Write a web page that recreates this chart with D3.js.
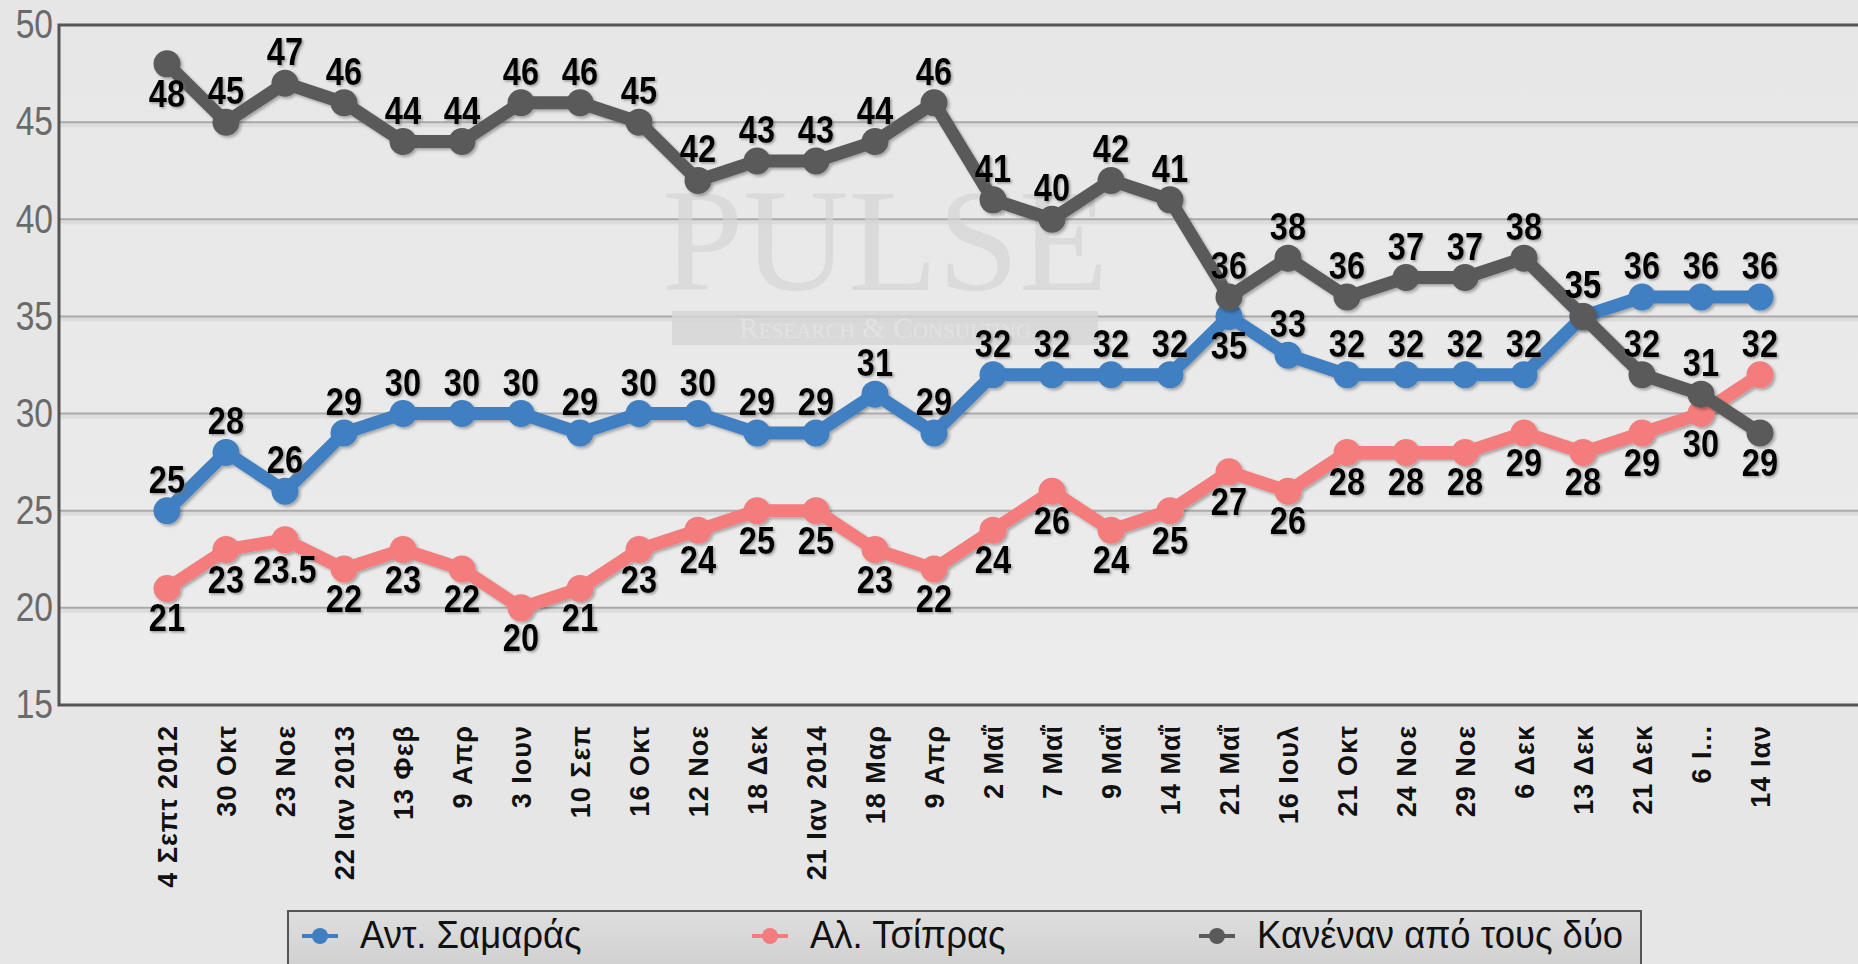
<!DOCTYPE html>
<html>
<head>
<meta charset="utf-8">
<script src="https://cdn.jsdelivr.net/npm/d3@7"></script>
<style>
  html, body { margin: 0; padding: 0; background: #e6e6e6; overflow: hidden; }
  svg { display: block; }
</style>
</head>
<body>
<svg id="chart" width="1858" height="964"></svg>
<script>
// poll dates
var dates = ['4 Σεπτ 2012', '30 Οκτ', '23 Νοε', '22 Ιαν 2013', '13 Φεβ', '9 Απρ', '3 Ιουν',
  '10 Σεπ', '16 Οκτ', '12 Νοε', '18 Δεκ', '21 Ιαν 2014', '18 Μαρ', '9 Απρ', '2 Μαΐ',
  '7 Μαΐ', '9 Μαΐ', '14 Μαΐ', '21 Μαΐ', '16 Ιουλ', '21 Οκτ', '24 Νοε', '29 Νοε',
  '6 Δεκ', '13 Δεκ', '21 Δεκ', '6 Ι...', '14 Ιαν']

var samaras = [25, 28, 26, 29, 30, 30, 30, 29, 30, 30, 29, 29, 31, 29, 32, 32, 32, 32, 35, 33,
  32, 32, 32, 32, 35, 36, 36, 36]
var tsipras = [21, 23, 23.5, 22, 23, 22, 20, 21, 23, 24, 25, 25, 23, 22, 24, 26, 24, 25, 27, 26,
  28, 28, 28, 29, 28, 29, 30, 32]
var none = [48, 45, 47, 46, 44, 44, 46, 46, 45, 42, 43, 43, 44, 46, 41, 40, 42, 41, 36, 38,
  36, 37, 37, 38, 35, 32, 31, 29]

var seriesNames = ['Αντ. Σαμαράς', 'Αλ. Τσίπρας', 'Κανέναν από τους δύο']
var yTicks = [15, 20, 25, 30, 35, 40, 45, 50]

var series = [
  { name: seriesNames[0], values: samaras, color: '#3f7fc1', below: [18] },
  { name: seriesNames[1], values: tsipras, color: '#f47c7c', below: d3.range(0, 27) },
  { name: seriesNames[2], values: none, color: '#5a5a5a', below: [0, 27] }
]

var margin = { top: 25, left: 59, bottom: 705 }
var plotRight = 1880

var svg = d3.select('#chart')

var defs = svg.append('defs')
var bg = defs.append('linearGradient').attr('id', 'plotbg').attr('x1', 0).attr('y1', 0).attr('x2', 0).attr('y2', 1)
bg.append('stop').attr('offset', '0%').attr('stop-color', '#e7e7e7')
bg.append('stop').attr('offset', '100%').attr('stop-color', '#ececec')

var lg = defs.append('linearGradient').attr('id', 'legbg').attr('x1', 0).attr('y1', 0).attr('x2', 0).attr('y2', 1)
lg.append('stop').attr('offset', '0%').attr('stop-color', '#dedede')
lg.append('stop').attr('offset', '100%').attr('stop-color', '#cbcbcb')

var shadow = defs.append('filter').attr('id', 'shadow').attr('x', '-20%').attr('y', '-20%').attr('width', '140%').attr('height', '140%')
shadow.append('feDropShadow').attr('dx', 2).attr('dy', 2).attr('stdDeviation', 1.5)
  .attr('flood-color', '#000').attr('flood-opacity', 0.3)

var textShadow = defs.append('filter').attr('id', 'tshadow').attr('x', '-20%').attr('y', '-20%').attr('width', '140%').attr('height', '140%')
textShadow.append('feDropShadow').attr('dx', 1.5).attr('dy', 1.5).attr('stdDeviation', 1.2)
  .attr('flood-color', '#777').attr('flood-opacity', 0.7)

// scales
var x = d3.scalePoint().domain(d3.range(dates.length)).range([167, 1760])
var y = d3.scaleLinear().domain([15, 50]).range([margin.bottom, margin.top])

// plot background
svg.append('rect')
  .attr('x', margin.left).attr('y', margin.top)
  .attr('width', plotRight - margin.left).attr('height', margin.bottom - margin.top)
  .attr('fill', 'url(#plotbg)')

// grid lines
var gridVals = yTicks.filter(function(d) { return d > 15 && d < 50 })
var grid = svg.append('g').attr('class', 'grid')
grid.selectAll('.shade')
  .data(gridVals)
  .enter().append('line')
  .attr('x1', margin.left).attr('x2', plotRight)
  .attr('y1', function(d) { return y(d) + 3 }).attr('y2', function(d) { return y(d) + 3 })
  .attr('stroke', '#dcdcdc').attr('stroke-width', 4)
grid.selectAll('.gl')
  .data(gridVals)
  .enter().append('line')
  .attr('x1', margin.left).attr('x2', plotRight)
  .attr('y1', function(d) { return y(d) }).attr('y2', function(d) { return y(d) })
  .attr('stroke', '#a9a9a9').attr('stroke-width', 2)

// watermark
var wm = svg.append('g').attr('class', 'watermark')
wm.append('text')
  .attr('x', 885).attr('y', 290)
  .attr('text-anchor', 'middle')
  .style('font-family', '"Liberation Serif", "DejaVu Serif", serif')
  .style('font-size', '146px')
  .attr('fill', '#d4d4d4').attr('fill-opacity', 0.7)
  .text('PULSE')
wm.append('rect')
  .attr('x', 672).attr('y', 311).attr('width', 426).attr('height', 34)
  .attr('fill', '#d4d4d4').attr('fill-opacity', 0.8)
wm.append('text')
  .attr('x', 885).attr('y', 338)
  .attr('text-anchor', 'middle')
  .style('font-family', '"Liberation Serif", "DejaVu Serif", serif')
  .style('font-size', '30px').style('font-variant', 'small-caps')
  .attr('fill', '#e2e2e2')
  .text('Research & Consulting')

// axis frame
svg.append('path')
  .attr('d', 'M' + plotRight + ',' + margin.top + 'H' + margin.left + 'V' + margin.bottom + 'H' + plotRight)
  .attr('fill', 'none').attr('stroke', '#555').attr('stroke-width', 3)

// y axis labels (condensed by horizontal scaling)
var yAxis = d3.axisLeft(y).tickValues(yTicks).tickSize(0).tickPadding(0)
var yg = svg.append('g')
  .attr('transform', 'translate(' + margin.left + ',0)')
  .call(yAxis)
yg.select('.domain').remove()
yg.selectAll('text')
  .attr('x', 0)
  .attr('transform', 'translate(-6,0) scale(0.84,1)')
  .style('font-family', '"Liberation Sans", Arial, sans-serif')
  .style('font-size', '40px')
  .attr('fill', '#6a6a6a')

// x axis labels
var xAxis = d3.axisBottom(x).tickSize(0).tickFormat(function(i) { return dates[i] })
var xg = svg.append('g')
  .attr('transform', 'translate(0,' + margin.bottom + ')')
  .call(xAxis)
xg.select('.domain').remove()
xg.selectAll('text')
  .attr('transform', 'rotate(-90)')
  .attr('x', -20).attr('y', 0).attr('dy', '0.36em')
  .attr('text-anchor', 'end')
  .style('font-family', '"Liberation Sans", Arial, sans-serif')
  .style('font-weight', 'bold')
  .style('font-size', '27px')
  .style('letter-spacing', '1px')
  .attr('fill', '#111')

// lines and markers
var line = d3.line()
  .x(function(d, i) { return x(i) })
  .y(function(d) { return y(d) })

var sg = svg.selectAll('.series')
  .data(series)
  .enter().append('g')
  .attr('class', 'series')
  .attr('filter', 'url(#shadow)')

sg.append('path')
  .attr('d', function(s) { return line(s.values) })
  .attr('fill', 'none')
  .attr('stroke', function(s) { return s.color })
  .attr('stroke-width', 13)
  .attr('stroke-linejoin', 'round')

sg.selectAll('circle')
  .data(function(s) { return s.values.map(function(v) { return { v: v, c: s.color } }) })
  .enter().append('circle')
  .attr('cx', function(d, i) { return x(i) })
  .attr('cy', function(d) { return y(d.v) })
  .attr('r', 13.5)
  .attr('fill', function(d) { return d.c })

// data labels
var lab = svg.append('g').attr('class', 'labels').attr('filter', 'url(#tshadow)')
series.forEach(function(s) {
  lab.selectAll(null)
    .data(s.values)
    .enter().append('text')
    .attr('transform', function(d, i) {
      var ty = s.below.indexOf(i) >= 0 ? y(d) + 43 : y(d) - 18
      return 'translate(' + x(i) + ',' + ty + ') scale(0.86,1)'
    })
    .attr('text-anchor', 'middle')
    .style('font-family', '"Liberation Sans", Arial, sans-serif')
    .style('font-weight', 'bold')
    .style('font-size', '38px')
    .attr('fill', '#000')
    .text(function(d) { return d })
})

// legend
var legend = svg.append('g').attr('class', 'legend')
legend.append('rect')
  .attr('x', 288).attr('y', 911).attr('width', 1353).attr('height', 80)
  .attr('fill', 'url(#legbg)').attr('stroke', '#555').attr('stroke-width', 2)

var legX = [302, 752, 1199]
var li = legend.selectAll('.item')
  .data(series)
  .enter().append('g')
  .attr('transform', function(s, i) { return 'translate(' + legX[i] + ',936)' })
li.append('line')
  .attr('x1', 0).attr('x2', 36).attr('y1', 0).attr('y2', 0)
  .attr('stroke', function(s) { return s.color }).attr('stroke-width', 4)
li.append('circle')
  .attr('cx', 18).attr('cy', 0).attr('r', 8)
  .attr('fill', function(s) { return s.color })
li.append('text')
  .attr('transform', 'translate(58,12) scale(0.96,1)')
  .style('font-family', '"Liberation Sans", Arial, sans-serif')
  .style('font-size', '38px')
  .attr('fill', '#111')
  .text(function(s) { return s.name })
</script>
</body>
</html>
